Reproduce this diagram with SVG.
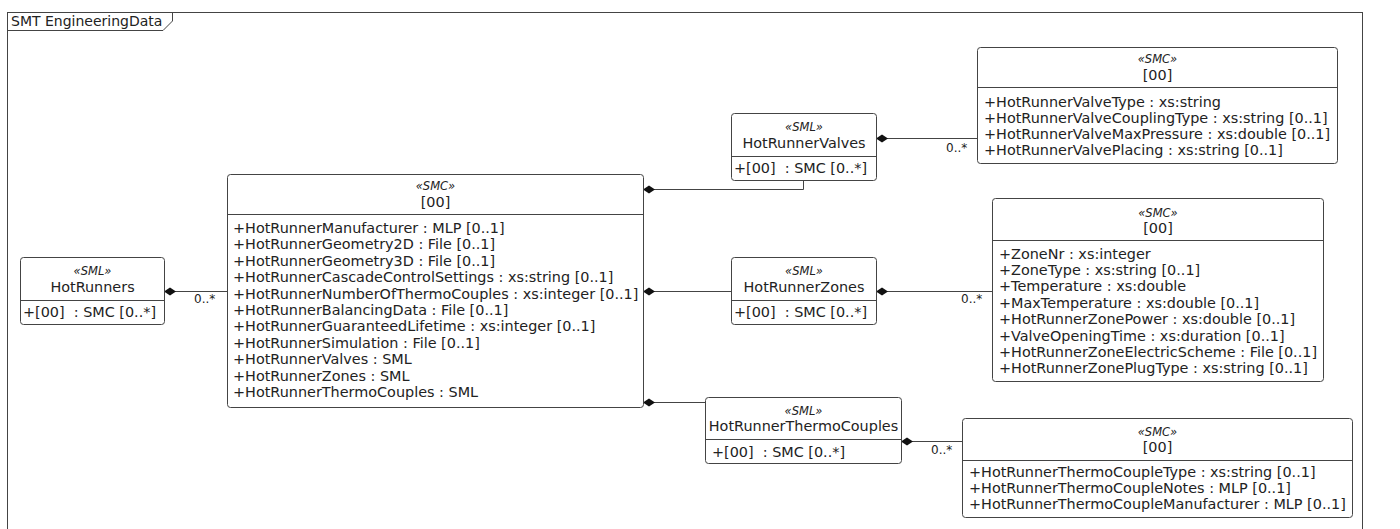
<svg xmlns="http://www.w3.org/2000/svg" width="1400" height="529" viewBox="0 0 1400 529">
<style>
.box{fill:#fff;stroke:#444;stroke-width:1}
.dv{stroke:#444;stroke-width:1}
.t{font-family:"DejaVu Sans",sans-serif;font-size:14.4px;fill:#222}
.st{font-style:italic;font-size:11.5px}
.c{text-anchor:middle}
.lbl{font-size:12px}
.fl{font-size:14px}
.ln{stroke:#444;stroke-width:1;fill:none}
.dm{fill:#111;stroke:none}
.frame{fill:none;stroke:#444;stroke-width:1}
</style>
<rect width="1400" height="529" fill="#fff"/>
<g id="frame">
<rect class="frame" x="7.5" y="12.5" width="1355" height="530"/>
<path class="frame" d="M7.5,30.5 H163 L172.5,21 V12.5"/>
<text class="t fl" x="11" y="26">SMT EngineeringData</text>
</g>
<g id="connectors">
<path class="ln" d="M164,291.5 H227"/>
<polygon class="dm" points="164,291.5 170,287.5 176,291.5 170,295.5"/>
<text class="t lbl" x="194" y="303">0..*</text>
<path class="ln" d="M643,189.5 H803.5 V180.5"/>
<polygon class="dm" points="643,189.5 649,185.5 655,189.5 649,193.5"/>
<path class="ln" d="M876,138.5 H977"/>
<polygon class="dm" points="876,138.5 882,134.5 888,138.5 882,142.5"/>
<text class="t lbl" x="946" y="152">0..*</text>
<path class="ln" d="M643,291.5 H731"/>
<polygon class="dm" points="643,291.5 649,287.5 655,291.5 649,295.5"/>
<path class="ln" d="M876,291.5 H992"/>
<polygon class="dm" points="876,291.5 882,287.5 888,291.5 882,295.5"/>
<text class="t lbl" x="961" y="303">0..*</text>
<path class="ln" d="M643,402.5 H705"/>
<polygon class="dm" points="643,402.5 649,398.5 655,402.5 649,406.5"/>
<path class="ln" d="M901,441.5 H962"/>
<polygon class="dm" points="901,441.5 907,437.5 913,441.5 907,445.5"/>
<text class="t lbl" x="931" y="454">0..*</text>
</g>
<g id="HotRunners">
<rect class="box" x="20.5" y="257.5" width="144" height="67" rx="3"/>
<line class="dv" x1="20.5" y1="300.5" x2="164.5" y2="300.5"/>
<text class="t st c" x="92.5" y="274.5">«SML»</text>
<text class="t c" x="92.5" y="292">HotRunners</text>
<text class="t" x="23" y="317" xml:space="preserve">+[00]  : SMC [0..*]</text>
</g>
<g id="SMC_main">
<rect class="box" x="227.5" y="174.5" width="416" height="233" rx="3"/>
<line class="dv" x1="227.5" y1="214.5" x2="643.5" y2="214.5"/>
<text class="t st c" x="435.5" y="190">«SMC»</text>
<text class="t c" x="435.5" y="207">[00]</text>
<text class="t" x="233">
<tspan x="233" y="233">+HotRunnerManufacturer : MLP [0..1]</tspan>
<tspan x="233" y="249.4">+HotRunnerGeometry2D : File [0..1]</tspan>
<tspan x="233" y="265.8">+HotRunnerGeometry3D : File [0..1]</tspan>
<tspan x="233" y="282.2">+HotRunnerCascadeControlSettings : xs:string [0..1]</tspan>
<tspan x="233" y="298.6">+HotRunnerNumberOfThermoCouples : xs:integer [0..1]</tspan>
<tspan x="233" y="315">+HotRunnerBalancingData : File [0..1]</tspan>
<tspan x="233" y="331.4">+HotRunnerGuaranteedLifetime : xs:integer [0..1]</tspan>
<tspan x="233" y="347.8">+HotRunnerSimulation : File [0..1]</tspan>
<tspan x="233" y="364.2">+HotRunnerValves : SML</tspan>
<tspan x="233" y="380.6">+HotRunnerZones : SML</tspan>
<tspan x="233" y="397">+HotRunnerThermoCouples : SML</tspan>
</text>
</g>
<g id="HotRunnerValves">
<rect class="box" x="731.5" y="113.5" width="145" height="67" rx="3"/>
<line class="dv" x1="731.5" y1="156.5" x2="876.5" y2="156.5"/>
<text class="t st c" x="804" y="130.5">«SML»</text>
<text class="t c" x="804" y="147.5">HotRunnerValves</text>
<text class="t" x="734" y="173" xml:space="preserve">+[00]  : SMC [0..*]</text>
</g>
<g id="SMC_valve">
<rect class="box" x="977.5" y="47.5" width="360" height="116" rx="3"/>
<line class="dv" x1="977.5" y1="87.5" x2="1337.5" y2="87.5"/>
<text class="t st c" x="1157.5" y="63">«SMC»</text>
<text class="t c" x="1157.5" y="79.5">[00]</text>
<text class="t">
<tspan x="984" y="106.5">+HotRunnerValveType : xs:string</tspan>
<tspan x="984" y="122.5">+HotRunnerValveCouplingType : xs:string [0..1]</tspan>
<tspan x="984" y="138.5">+HotRunnerValveMaxPressure : xs:double [0..1]</tspan>
<tspan x="984" y="154.5">+HotRunnerValvePlacing : xs:string [0..1]</tspan>
</text>
</g>
<g id="HotRunnerZones">
<rect class="box" x="731.5" y="257.5" width="145" height="67" rx="3"/>
<line class="dv" x1="731.5" y1="300.5" x2="876.5" y2="300.5"/>
<text class="t st c" x="804" y="274.5">«SML»</text>
<text class="t c" x="804" y="291.5">HotRunnerZones</text>
<text class="t" x="734" y="317" xml:space="preserve">+[00]  : SMC [0..*]</text>
</g>
<g id="SMC_zone">
<rect class="box" x="992.5" y="198.5" width="331" height="183" rx="3"/>
<line class="dv" x1="992.5" y1="240.5" x2="1323.5" y2="240.5"/>
<text class="t st c" x="1158" y="217">«SMC»</text>
<text class="t c" x="1158" y="233">[00]</text>
<text class="t">
<tspan x="999" y="258.5">+ZoneNr : xs:integer</tspan>
<tspan x="999" y="274.9">+ZoneType : xs:string [0..1]</tspan>
<tspan x="999" y="291.3">+Temperature : xs:double</tspan>
<tspan x="999" y="307.7">+MaxTemperature : xs:double [0..1]</tspan>
<tspan x="999" y="324.1">+HotRunnerZonePower : xs:double [0..1]</tspan>
<tspan x="999" y="340.5">+ValveOpeningTime : xs:duration [0..1]</tspan>
<tspan x="999" y="356.9">+HotRunnerZoneElectricScheme : File [0..1]</tspan>
<tspan x="999" y="373.3">+HotRunnerZonePlugType : xs:string [0..1]</tspan>
</text>
</g>
<g id="HotRunnerThermoCouples">
<rect class="box" x="705.5" y="397.5" width="196" height="66" rx="3"/>
<line class="dv" x1="705.5" y1="439.5" x2="901.5" y2="439.5"/>
<text class="t st c" x="803.5" y="414.5">«SML»</text>
<text class="t c" x="803.5" y="430.5">HotRunnerThermoCouples</text>
<text class="t" x="712" y="457" xml:space="preserve">+[00]  : SMC [0..*]</text>
</g>
<g id="SMC_thermo">
<rect class="box" x="962.5" y="418.5" width="390" height="99" rx="3"/>
<line class="dv" x1="962.5" y1="460.5" x2="1352.5" y2="460.5"/>
<text class="t st c" x="1157.5" y="436">«SMC»</text>
<text class="t c" x="1157.5" y="452">[00]</text>
<text class="t">
<tspan x="969" y="477">+HotRunnerThermoCoupleType : xs:string [0..1]</tspan>
<tspan x="969" y="493">+HotRunnerThermoCoupleNotes : MLP [0..1]</tspan>
<tspan x="969" y="509">+HotRunnerThermoCoupleManufacturer : MLP [0..1]</tspan>
</text>
</g>
</svg>
